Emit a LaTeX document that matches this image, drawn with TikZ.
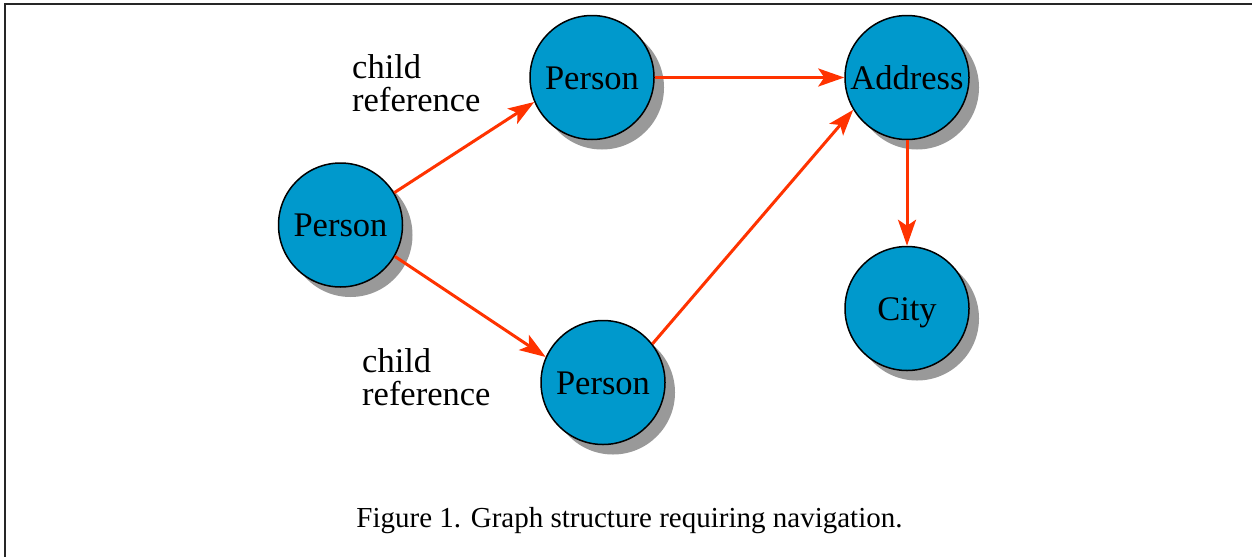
\documentclass[tikz,border=0pt]{standalone}
\usepackage{fontspec}
\setmainfont{Liberation Serif}
\usetikzlibrary{arrows.meta,shadows}
\definecolor{nodeblue}{RGB}{0,153,204}
\definecolor{arrowred}{RGB}{255,51,0}
\definecolor{shadowgray}{RGB}{153,153,153}
\begin{document}
\begin{tikzpicture}[x=1pt,y=-1pt,
  entity/.style={circle, draw=black, line width=1.5pt, fill=nodeblue,
    minimum size=124pt, inner sep=0pt, text height=23pt, text depth=0pt,
    font=\fontsize{34.5}{40}\selectfont,
    drop shadow={shadow xshift=10pt, shadow yshift=-10pt, fill=shadowgray, opacity=1}},
  link/.style={draw=arrowred, line width=3pt, -{Stealth[length=26pt,width=18pt,inset=6pt]}},
  lbl/.style={anchor=north west, inner sep=0pt, align=left, font=\fontsize{34.5}{33}\selectfont},
]
\useasboundingbox (0,0) rectangle (1252,557);
\fill[white] (0,0) rectangle (1252,557);
\draw[line width=2.5pt, black!85] (1252,4) -- (5,4) -- (5,557);

\node[entity] (p1) at (340.5,225) {Person};
\node[entity] (p2) at (592,77.5) {Person};
\node[entity] (addr) at (907,77.5) {Address};
\node[entity] (city) at (907,308.5) {City};
\node[entity] (p3) at (603,382.5) {Person};

\draw[link] (p1.31) -- (p2.203);
\draw[link] (p1.330) -- (p3.156);
\draw[link] (p2.east) -- (addr.west);
\draw[link] (p3.38) -- (addr.211);
\draw[link] (addr.south) -- (city.north);

\node[lbl] (l1) at (352,54.5) {child\\reference};
\node[lbl] (l2) at (362,348.5) {child\\reference};
\node[anchor=base, inner sep=0pt, font=\fontsize{29}{35}\selectfont] (cap) at (629.5,527) {Figure 1. Graph structure requiring navigation.};
\end{tikzpicture}
\end{document}
